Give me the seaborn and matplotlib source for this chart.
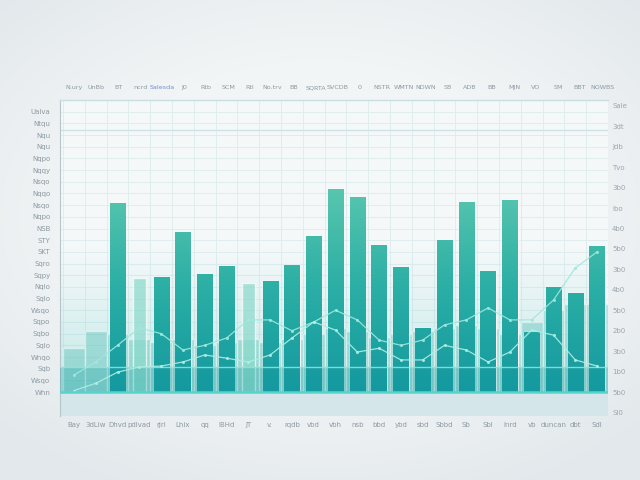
import matplotlib
matplotlib.use("Agg")
import matplotlib.pyplot as plt
from matplotlib.colors import LinearSegmentedColormap, Normalize
import seaborn as sns
import numpy as np
import pandas as pd

# bottom category labels (one per period)
periods = ["Bay", "3dLiw", "Dhvd", "pdlvad", "rJrl", "Lhix", "qq", "IBHd", "JT", "v.",
           "rqdb", "vbd", "vbh", "nsb", "bbd", "ybd", "sbd", "Sbbd", "Sb", "Sbl",
           "lnrd", "vb", "duncan", "dbt", "Sdl"]

# top row labels
top_labels = ["N.ury", "UnBb", "BT", "ncrd", "Salesda", "J0", "Rtb", "SCM", "Rtl", "No.trv",
              "BB", "SQRTA", "SVCDB", "0", "NSTR", "WMTN", "NDWN", "SB", "ADB", "BB",
              "MJN", "VO", "SM", "BBT", "NOWBS"]

# left axis labels, bottom to top
y_labels = ["Whn", "Wsqo", "Sqb", "Wnqo", "Sqlo", "Sqbo", "Sqpo", "Wsqo", "Sqlo", "Nqlo",
            "Sqpy", "Sqro", "SKT", "STY", "NSB", "Nqpo", "Nsqo", "Nqqo", "Nsqo", "Nqqy",
            "Nqpo", "Nqu", "Nqu", "Ntqu", "Ualva"]

# right axis labels, bottom to top
right_labels = ["Sl0", "5b0", "1b0", "3b0", "2b0", "5b0", "4b0", "3b0", "5b0", "4b0",
                "Ibo", "3b0", "Tvo", "Jdb", "3dt", "Sale"]

nan = np.nan
front_values = [nan, nan, 64.7, 39.0, 39.4, 54.8, 40.4, 43.2, 37.3, 38.0,
                43.5, 53.4, 69.5, 66.8, 50.3, 42.8, 21.9, 52.1, 65.1, 41.4,
                65.8, 20.5, 36.0, 33.9, 50.0]
faded = [False, False, False, True, False, False, False, False, True, False,
         False, False, False, False, False, False, False, False, False, False,
         False, False, False, False, False]
back_values = [15, 21, 20, 18, 17, 18, 16, 17, 18, 17, 18, 20, 22, 21, 19,
               20, 21, 22, 23, 22, 20, 24, 28, 30, 30]
line_a = [5.8, 10.3, 16.0, 22.0, 20.0, 14.4, 16.0, 18.5, 24.7, 24.7, 21.0, 24.0, 28.0,
          24.7, 17.8, 16.0, 17.8, 23.0, 24.7, 28.8, 24.7, 24.7, 31.5, 42.5, 48.0]
line_b = [0.5, 3.0, 6.8, 8.6, 8.9, 10.3, 12.7, 11.6, 10.3, 12.7, 18.5, 24.0, 21.2,
          13.7, 15.0, 11.0, 11.0, 16.0, 14.4, 10.3, 13.7, 21.2, 19.5, 11.0, 8.9]

df = pd.DataFrame({"period": periods, "value": front_values, "faded": faded,
                   "back": back_values, "a": line_a, "b": line_b})

sns.set_theme(style="white")
plt.rcParams['font.family'] = ['DejaVu Sans']

fig = plt.figure(figsize=(6.4, 4.8), dpi=100)
fig.patch.set_facecolor("#eef2f4")

# soft vignette behind everything
bg = fig.add_axes([0, 0, 1, 1], zorder=-1)
yy, xx = np.mgrid[-1:1:200j, -1:1:200j]
r = np.sqrt((xx * 0.9) ** 2 + ((yy + 0.1) * 1.0) ** 2)
vign = LinearSegmentedColormap.from_list("v", ["#f6f8f9", "#f2f5f6", "#e2e8eb"])
bg.imshow(np.clip(r, 0, 1.3), cmap=vign, aspect="auto", extent=[0, 1, 0, 1])
bg.axis("off")

ax = fig.add_axes([60 / 640, 1 - 416 / 480, 548 / 640, 316 / 480])
ax.set_facecolor("#f4f8f9")
ax.set_axisbelow(True)

x_lo, x_hi = -0.64, 24.27
y_lo, y_hi = -8.2, 100

# back layer of ghost bars
sns.barplot(data=df, x="period", y="back", order=periods, color="#5fc3bb",
            width=1.0, alpha=0.45, saturation=1, ax=ax, zorder=2)

# teal haze rising from the bottom
haze = np.zeros((100, 2, 4))
haze[..., :3] = np.array([0.35, 0.78, 0.76])
haze[..., 3] = np.linspace(0.0, 0.4, 100)[:, None] ** 1.2
ax.imshow(haze, extent=[x_lo, x_hi, 0, 50], aspect="auto", origin="upper", zorder=1.5)

# front bars
main = df[~df["faded"]]
light = df[df["faded"]]
sns.barplot(data=light, x="period", y="value", order=periods, color="#8ad9cb",
            width=0.6, alpha=0.7, saturation=1, ax=ax, zorder=3)
sns.barplot(data=main, x="period", y="value", order=periods, color="#34b3a6",
            width=0.7, saturation=1, ax=ax, zorder=3)

# vertical gradient on the main bars
bar_cmap = LinearSegmentedColormap.from_list("bars", ["#15999f", "#2aaea5", "#58c6ae"])
for bar in ax.containers[-1]:
    h = bar.get_height()
    if not np.isfinite(h) or h <= 0:
        continue
    x0, w = bar.get_x(), bar.get_width()
    grad = np.linspace(0, h, 80)[:, None]
    im = ax.imshow(grad, extent=[x0, x0 + w, 0, h], origin="lower", cmap=bar_cmap,
                   norm=Normalize(0, 70), aspect="auto", zorder=3.1)
    im.set_clip_path(bar)

# darker lower band and guide lines
ax.axhspan(0, 8.6, color="#129ca0", alpha=0.28, lw=0, zorder=3.5)
ax.axhline(8.6, color="#8fe4dc", lw=1.0, alpha=0.9, zorder=4)
ax.axhline(89.7, color="#cfe2e6", lw=1.0, zorder=1.2)
ax.axhspan(y_lo, 0, color="#d4e6e9", lw=0, zorder=1.2)
ax.axhline(0, color="#56d3cd", lw=1.8, zorder=5)

# the two thin lines
sns.lineplot(data=df, x="period", y="a", sort=False, color="#9fe8dd", lw=0.9,
             marker="o", markersize=2.2, markeredgewidth=0, alpha=0.9, ax=ax, zorder=4.5)
sns.lineplot(data=df, x="period", y="b", sort=False, color="#b0eee4", lw=0.9,
             marker="o", markersize=2.2, markeredgewidth=0, alpha=0.9, ax=ax, zorder=4.5)

ax.set_xlim(x_lo, x_hi)
ax.set_ylim(y_lo, y_hi)
ax.set_xlabel("")
ax.set_ylabel("")

label_color = "#8c9aa2"
ax.set_xticks(range(len(periods)))
ax.set_xticklabels(periods, fontsize=5, color=label_color)
ax.set_xticks(np.arange(-0.5, 25, 0.5), minor=True)
ax.set_yticks(np.arange(0, 100, 4))
ax.set_yticklabels(y_labels, fontsize=5, color=label_color)
ax.tick_params(axis="x", which="both", length=0, pad=4)
ax.tick_params(axis="y", which="major", length=4, color="#b9c7cc", width=0.6, pad=3)
ax.grid(True, which="major", axis="y", color="#dcebee", lw=0.6)
ax.grid(True, which="minor", axis="x", color="#dcebee", lw=0.6)

for side in ["right", "bottom"]:
    ax.spines[side].set_visible(False)
ax.spines["left"].set_color("#b5c6cb")
ax.spines["left"].set_linewidth(0.8)
ax.spines["top"].set_color("#c9dde2")
ax.spines["top"].set_linewidth(1.0)

# top labels
top = ax.twiny()
top.set_xlim(x_lo, x_hi)
top.set_xticks(range(len(top_labels)))
top.set_xticklabels(top_labels, fontsize=4.6, color=label_color)
top.tick_params(axis="x", length=0, pad=7)
for lab in top.get_xticklabels():
    if lab.get_text() == "Salesda":
        lab.set_color("#6b8fd2")
for s in top.spines.values():
    s.set_visible(False)

# right labels
right = ax.secondary_yaxis("right")
right.set_yticks(np.arange(-7, 105, 7))
right.set_yticklabels(right_labels, fontsize=5, color="#9aa7ae")
right.tick_params(length=0, pad=3)
right.spines["right"].set_visible(False)

fig.savefig("out.png", dpi=100, facecolor=fig.get_facecolor())
